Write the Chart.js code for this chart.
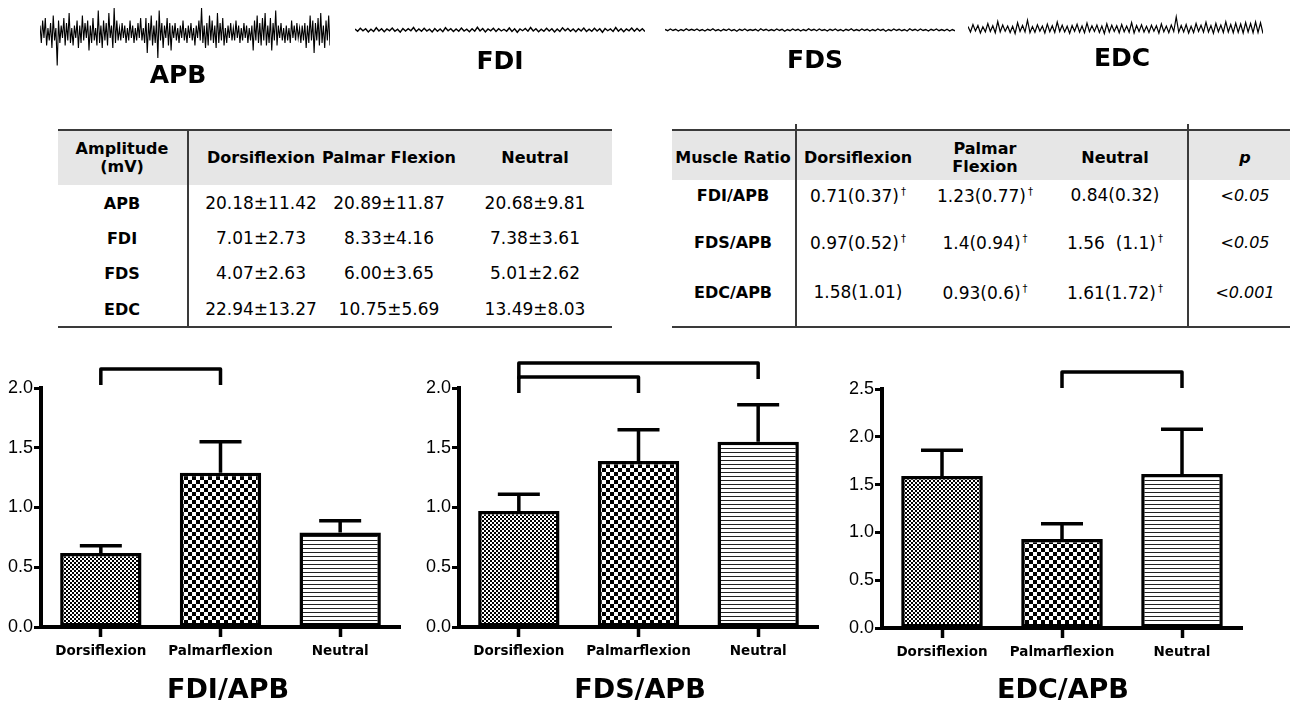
<!DOCTYPE html>
<html>
<head>
<meta charset="utf-8">
<script src="https://cdn.jsdelivr.net/npm/chart.js@4.4.1/dist/chart.umd.min.js"></script>
<style>
  body { margin: 0; background: #fff; }
  #page { position: relative; width: 1298px; height: 705px; overflow: hidden; font-family: "DejaVu Sans", Verdana, sans-serif; color: #000; }
  canvas { position: absolute; }
  .t { position: absolute; white-space: nowrap; transform: translate(-50%, -50%); line-height: 1.15; text-align: center; }
  .ln { position: absolute; background: #3a3a3a; }
  .band { position: absolute; background: #e6e6e6; }
  sup { font-size: 10px; vertical-align: 7px; margin-left: 2px; }
</style>
</head>
<body>
<div id="page">
  <canvas id="emgAPB" width="290" height="67" style="left:40px;top:3px"></canvas>
  <canvas id="emgFDI" width="290" height="67" style="left:355px;top:0px"></canvas>
  <canvas id="emgFDS" width="290" height="67" style="left:665px;top:0px"></canvas>
  <canvas id="emgEDC" width="295" height="67" style="left:968px;top:-1px"></canvas>
  <canvas id="fdiChart" width="410" height="365" style="left:0px;top:340px"></canvas>
  <canvas id="fdsChart" width="410" height="365" style="left:418px;top:340px"></canvas>
  <canvas id="edcChart" width="410" height="365" style="left:841px;top:340px"></canvas>
</div>
<script>
// EMG traces (arbitrary units)
const apbTrace = [0.3,-0.4,0.5,-0.2,0.6,-0.5,0.2,-0.3,0.4,-0.6,0.7,-0.3,0.2,-1.3,0.5,-0.4,0.3,-0.2,0.6,-0.5,
  0.4,-0.3,0.8,-0.4,0.2,-0.5,0.3,-0.2,0.5,-0.6,0.3,-0.4,0.7,-0.3,0.4,-0.2,0.5,-0.7,0.3,-0.4,
  0.6,-0.3,0.2,-0.5,0.9,-0.4,0.3,-0.6,0.5,-0.3,0.4,-0.5,0.8,-0.2,0.3,-0.6,1.0,-0.4,0.5,-0.3,
  0.2,-0.3,0.4,-0.2,0.3,-0.4,0.2,-0.3,0.5,-0.2,0.3,-0.4,0.2,-0.3,0.4,-0.2,0.6,-0.3,0.2,-0.4,
  0.6,-0.8,0.4,-0.3,0.7,-0.5,0.3,-0.4,0.5,-1.0,0.9,-0.3,0.4,-0.6,0.3,-0.2,0.6,-0.5,0.4,-0.7,
  0.3,-0.2,0.4,-0.3,0.2,-0.4,0.3,-0.2,0.5,-0.3,0.2,-0.4,0.3,-0.2,0.4,-0.3,0.2,-0.5,0.3,-0.2,
  0.5,-0.3,1.0,-0.4,0.3,-0.6,0.4,-0.5,0.7,-0.3,0.5,-0.4,0.3,-0.6,0.8,-0.4,0.4,-0.3,0.6,-0.5,
  0.2,-0.4,0.3,-0.2,0.4,-0.3,0.2,-0.3,0.5,-0.2,0.3,-0.4,0.2,-0.3,0.4,-0.2,0.3,-0.4,0.2,-0.3,
  0.3,-0.7,0.5,-0.3,0.7,-0.4,0.4,-0.5,0.6,-0.3,0.8,-0.5,0.3,-0.4,0.6,-0.7,0.4,-0.3,0.9,-0.5,
  0.3,-0.2,0.4,-0.3,0.2,-0.4,0.3,-0.3,0.2,-0.4,0.5,-0.2,0.3,-0.3,0.4,-0.2,0.2,-0.4,0.3,-0.3,
  0.4,-0.6,0.3,-0.4,0.7,-0.3,0.5,-0.8,0.4,-0.3,0.6,-0.5,0.8,-0.4,0.3,-0.6,0.5,-0.3,0.7,-0.5];
const fdiTrace = [0.04,-0.05,0.07,-0.03,0.05,-0.08,0.03,-0.06,0.09,-0.04,0.05,-0.07,0.04,-0.03,0.08,-0.05,0.03,-0.09,0.06,-0.04,
  0.05,-0.03,0.10,-0.06,0.04,-0.05,0.07,-0.04,0.03,-0.08,0.06,-0.05,0.04,-0.07,0.09,-0.03,0.05,-0.06,0.04,-0.05,
  0.08,-0.04,0.03,-0.07,0.05,-0.05,0.11,-0.04,0.06,-0.08,0.04,-0.03,0.07,-0.06,0.05,-0.04,0.03,-0.05,0.08,-0.06,
  0.05,-0.09,0.04,-0.03,0.06,-0.05,0.10,-0.04,0.05,-0.07,0.03,-0.05,0.07,-0.04,0.05,-0.08,0.04,-0.06,0.09,-0.03,
  0.06,-0.05,0.04,-0.07,0.05,-0.04,0.08,-0.06,0.03,-0.05,0.07,-0.04,0.05,-0.09,0.06,-0.03,0.04,-0.06,0.10,-0.05,
  0.05,-0.07,0.04,-0.03,0.08,-0.05,0.06,-0.04,0.05,-0.06];
const fdsTrace = [0.02,-0.03,0.04,-0.02,0.03,-0.04,0.02,-0.03,0.05,-0.02,0.03,-0.02,0.04,-0.03,0.02,-0.04,0.03,-0.02,0.05,-0.03,
  0.02,-0.04,0.03,-0.02,0.04,-0.03,0.02,-0.05,0.03,-0.02,0.04,-0.03,0.02,-0.02,0.03,-0.04,0.05,-0.02,0.03,-0.03,
  0.02,-0.03,0.04,-0.02,0.03,-0.05,0.02,-0.03,0.04,-0.02,0.03,-0.04,0.02,-0.03,0.05,-0.02,0.03,-0.03,0.04,-0.02,
  0.02,-0.04,0.03,-0.02,0.04,-0.03,0.02,-0.04,0.03,-0.02,0.05,-0.03,0.02,-0.03,0.04,-0.02,0.03,-0.04,0.02,-0.03,
  0.04,-0.02,0.03,-0.05,0.02,-0.03,0.04,-0.02,0.03,-0.03,0.02,-0.04,0.05,-0.02,0.03,-0.03,0.04,-0.02,0.02,-0.04,
  0.03,-0.02,0.04,-0.03,0.02,-0.03,0.03,-0.04,0.02,-0.03];
const edcTrace = [0.10,-0.12,0.18,-0.08,0.14,-0.16,0.09,-0.11,0.22,-0.10,0.13,-0.15,0.30,-0.12,0.16,-0.09,0.12,-0.14,0.11,-0.18,
  0.25,-0.10,0.14,-0.12,0.35,-0.15,0.10,-0.13,0.17,-0.09,0.12,-0.16,0.20,-0.11,0.13,-0.14,0.28,-0.10,0.15,-0.12,
  0.11,-0.17,0.14,-0.09,0.19,-0.13,0.12,-0.15,0.24,-0.11,0.13,-0.10,0.16,-0.14,0.12,-0.18,0.21,-0.12,0.15,-0.10,
  0.13,-0.15,0.18,-0.11,0.12,-0.13,0.26,-0.16,0.14,-0.10,0.17,-0.12,0.11,-0.14,0.15,-0.09,0.13,-0.17,0.20,-0.11,
  0.12,-0.15,0.16,-0.10,0.48,-0.13,0.14,-0.12,0.18,-0.16,0.11,-0.14,0.22,-0.10,0.15,-0.13,0.27,-0.12,0.14,-0.17,
  0.23,-0.11,0.16,-0.14,0.29,-0.12,0.18,-0.15,0.24,-0.13,0.20,-0.16,0.26,-0.12,0.22,-0.15,0.28,-0.14,0.25,-0.18];
const traceNames = ["APB", "FDI", "FDS", "EDC"];

// tables
const ampHeader = ["Amplitude<br>(mV)", "Dorsiflexion", "Palmar Flexion", "Neutral"];
const ampRows = ["APB", "FDI", "FDS", "EDC"];
const ampValues = [
  ["20.18±11.42", "20.89±11.87", "20.68±9.81"],
  ["7.01±2.73", "8.33±4.16", "7.38±3.61"],
  ["4.07±2.63", "6.00±3.65", "5.01±2.62"],
  ["22.94±13.27", "10.75±5.69", "13.49±8.03"]
];
const ratioHeader = ["Muscle Ratio", "Dorsiflexion", "Palmar<br>Flexion", "Neutral", "<i>p</i>"];
const ratioRows = ["FDI/APB", "FDS/APB", "EDC/APB"];
const ratioValues = [
  ["0.71(0.37)", "1.23(0.77)", "0.84(0.32)"],
  ["0.97(0.52)", "1.4(0.94)", "1.56&nbsp;&nbsp;(1.1)"],
  ["1.58(1.01)", "0.93(0.6)", "1.61(1.72)"]
];
const ratioDagger = [[1, 1, 0], [1, 1, 1], [0, 1, 1]];
const pValues = ["<0.05", "<0.05", "<0.001"];

// bar charts
const positions = ["Dorsiflexion", "Palmarflexion", "Neutral"];
const fdiMean = [0.62, 1.29, 0.79];
const fdiSem = [0.06, 0.26, 0.10];
const fdsMean = [0.97, 1.39, 1.55];
const fdsSem = [0.14, 0.26, 0.31];
const edcMean = [1.59, 0.93, 1.61];
const edcSem = [0.27, 0.16, 0.47];
const fdiPairs = [[0, 1]];
const fdsPairs = [[0, 1], [0, 2]];
const edcPairs = [[1, 2]];

const page = document.getElementById("page");

function addText(html, x, y, style) {
  const d = document.createElement("div");
  d.className = "t";
  d.innerHTML = html;
  d.style.left = x + "px";
  d.style.top = y + "px";
  Object.assign(d.style, style || {});
  page.appendChild(d);
}
function addBox(cls, x, y, w, h) {
  const d = document.createElement("div");
  d.className = cls;
  Object.assign(d.style, { left: x + "px", top: y + "px", width: w + "px", height: h + "px" });
  page.appendChild(d);
}

// ---- EMG traces ----
function trace(id, values, width) {
  new Chart(document.getElementById(id), {
    type: "line",
    data: { labels: values.map((v, i) => i), datasets: [{ data: values, borderColor: "#000", borderWidth: width, pointRadius: 0, tension: 0 }] },
    options: {
      responsive: false, animation: false,
      plugins: { legend: { display: false }, tooltip: { enabled: false } },
      scales: { x: { display: false }, y: { display: false, min: -1.48, max: 1.2 } }
    }
  });
}
trace("emgAPB", apbTrace, 1.1);
trace("emgFDI", fdiTrace, 1.4);
trace("emgFDS", fdsTrace, 1.4);
trace("emgEDC", edcTrace, 1.2);
const traceLabelPos = [[178, 75], [500, 61], [815, 60], [1122, 58]];
traceNames.forEach((n, i) => addText(n, traceLabelPos[i][0], traceLabelPos[i][1], { fontSize: "25px", fontWeight: "bold" }));

// ---- left table ----
addBox("band", 58, 131, 554, 54);
addBox("ln", 58, 129, 554, 2);
addBox("ln", 58, 326, 554, 2);
addBox("ln", 187, 129, 1.5, 198);
const ampX = [122, 261, 389, 535];
const ampY = [204, 239, 274, 310];
ampHeader.forEach((h, i) => addText(h, ampX[i], 158, { fontSize: "16px", fontWeight: "bold" }));
ampRows.forEach((r, j) => {
  addText(r, ampX[0], ampY[j], { fontSize: "16px", fontWeight: "bold" });
  ampValues[j].forEach((v, i) => addText(v, ampX[i + 1], ampY[j], { fontSize: "17px" }));
});

// ---- right table ----
addBox("band", 672, 131, 618, 49);
addBox("ln", 672, 129, 618, 2);
addBox("ln", 672, 326, 618, 2);
addBox("ln", 795, 124, 1.5, 203);
addBox("ln", 1187, 124, 1.5, 203);
const ratioX = [733, 858, 985, 1115, 1245];
const ratioY = [196, 243, 293];
ratioHeader.forEach((h, i) => addText(h, ratioX[i], 158, { fontSize: "16px", fontWeight: "bold" }));
ratioRows.forEach((r, j) => {
  addText(r, ratioX[0], ratioY[j], { fontSize: "16px", fontWeight: "bold" });
  ratioValues[j].forEach((v, i) => addText(v + (ratioDagger[j][i] ? "<sup>†</sup>" : ""), ratioX[i + 1], ratioY[j], { fontSize: "17px" }));
  addText(pValues[j].replace("<", "&lt;"), ratioX[4], ratioY[j], { fontSize: "16px", fontStyle: "italic" });
});

// ---- fill patterns ----
function checker(size) {
  const c = document.createElement("canvas");
  c.width = c.height = size * 2;
  const g = c.getContext("2d");
  g.fillStyle = "#fff"; g.fillRect(0, 0, size * 2, size * 2);
  g.fillStyle = "#000"; g.fillRect(0, 0, size, size); g.fillRect(size, size, size, size);
  return g.createPattern(c, "repeat");
}
function stripes(gap) {
  const c = document.createElement("canvas");
  c.width = 4; c.height = gap;
  const g = c.getContext("2d");
  g.fillStyle = "#fff"; g.fillRect(0, 0, 4, gap);
  g.fillStyle = "#222"; g.fillRect(0, 0, 4, 1);
  return g.createPattern(c, "repeat");
}
const fills = [checker(2), checker(4), stripes(4)];

// error bars and significance brackets
const extras = {
  id: "extras",
  afterDatasetsDraw(chart, args, opts) {
    const { ctx, scales: { y }, chartArea } = chart;
    const bars = chart.getDatasetMeta(0).data;
    ctx.save();
    ctx.strokeStyle = "#000";
    ctx.lineWidth = 3.5;
    opts.mean.forEach((m, i) => {
      const x = bars[i].x, y0 = y.getPixelForValue(m), y1 = y.getPixelForValue(m + opts.err[i]);
      ctx.beginPath();
      ctx.moveTo(x, y0); ctx.lineTo(x, y1);
      ctx.moveTo(x - 21, y1); ctx.lineTo(x + 21, y1);
      ctx.stroke();
    });
    ctx.lineJoin = "round";
    opts.pairs.forEach((p, k) => {
      const top = chartArea.top + opts.base - k * 14;
      const xa = bars[p[0]].x, xb = bars[p[1]].x;
      ctx.beginPath();
      ctx.moveTo(xa, top + 16); ctx.lineTo(xa, top); ctx.lineTo(xb, top); ctx.lineTo(xb, top + 16);
      ctx.stroke();
    });
    ctx.restore();
  }
};

function barChart(id, mean, err, pairs, yMax, top, padRight, base, title, titleX) {
  new Chart(document.getElementById(id), {
    type: "bar",
    data: {
      labels: positions,
      datasets: [{
        data: mean,
        backgroundColor: fills,
        borderColor: "#000",
        borderWidth: 3.5,
        borderSkipped: false,
        barPercentage: 0.68,
        categoryPercentage: 1
      }]
    },
    options: {
      responsive: false, animation: false,
      layout: { padding: { top: top, right: padRight, left: 0, bottom: 0 } },
      plugins: {
        legend: { display: false }, tooltip: { enabled: false },
        extras: { mean: mean, err: err, pairs: pairs, base: base }
      },
      scales: {
        x: {
          grid: { drawOnChartArea: false, offset: false, tickLength: 10, tickWidth: 3.5, color: "#000" },
          border: { width: 4, color: "#000" },
          ticks: { color: "#000", padding: 6, font: { family: "DejaVu Sans", size: 13.5, weight: "bold" } },
          afterFit(s) { s.height = 365 - top - 239; }
        },
        y: {
          min: 0, max: yMax,
          grid: { drawOnChartArea: false, tickLength: 7, tickWidth: 3, color: "#000" },
          border: { width: 4, color: "#000" },
          ticks: { stepSize: 0.5, color: "#000", padding: 1, callback: v => v.toFixed(1), font: { family: "Liberation Sans", size: 18 } },
          afterFit(s) { s.width = 41; }
        }
      }
    },
    plugins: [extras]
  });
  addText(title, titleX, 689, { fontSize: "27px", fontWeight: "bold" });
}

barChart("fdiChart", fdiMean, fdiSem, fdiPairs, 2.0, 48, 10, -19, "FDI/APB", 228);
barChart("fdsChart", fdsMean, fdsSem, fdsPairs, 2.0, 48, 10, -11, "FDS/APB", 640);
barChart("edcChart", edcMean, edcSem, edcPairs, 2.5, 49, 9, -17, "EDC/APB", 1063);
</script>
</body>
</html>
